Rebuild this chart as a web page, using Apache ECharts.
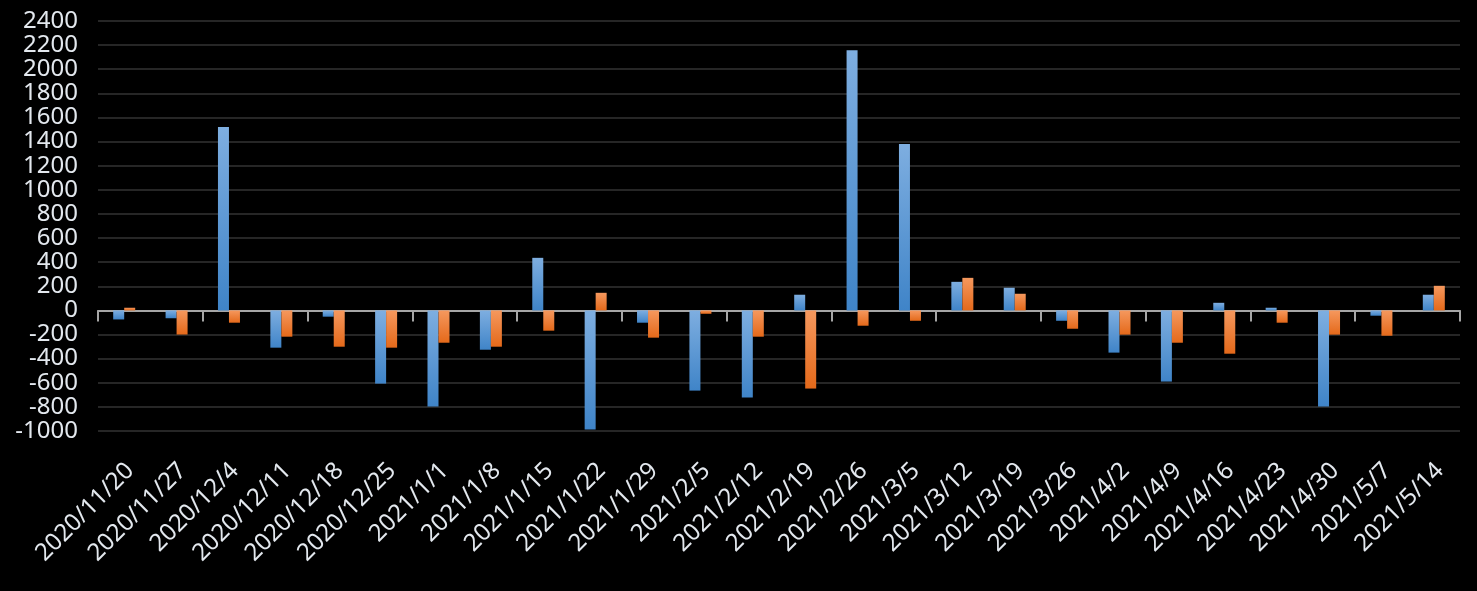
<!DOCTYPE html>
<html>
<head>
<meta charset="utf-8">
<script src="https://cdn.jsdelivr.net/npm/echarts@6/dist/echarts.min.js"></script>
<style>
html,body{margin:0;padding:0;background:#000;}
#c{width:1477px;height:591px;}
</style>
</head>
<body>
<div id="c"></div>
<script>
const categories = ['2020/11/20','2020/11/27','2020/12/4','2020/12/11','2020/12/18','2020/12/25','2021/1/1','2021/1/8','2021/1/15','2021/1/22','2021/1/29','2021/2/5','2021/2/12','2021/2/19','2021/2/26','2021/3/5','2021/3/12','2021/3/19','2021/3/26','2021/4/2','2021/4/9','2021/4/16','2021/4/23','2021/4/30','2021/5/7','2021/5/14'];
const blueValues = [-75,-65,1520,-309,-52,-607,-797,-326,436,-988,-102,-665,-723,130,2157,1379,237,188,-86,-350,-590,63,22,-797,-44,130];
const orangeValues = [22,-200,-102,-218,-301,-309,-268,-301,-168,146,-226,-28,-218,-648,-127,-86,270,138,-152,-201,-268,-359,-102,-201,-210,204];
const yTicks = {min:-1000, max:2400, interval:200};

const chart = echarts.init(document.getElementById('c'), null, {renderer:'canvas'});
const grad = (top, bottom) => new echarts.graphic.LinearGradient(0,0,0,1,[{offset:0,color:top},{offset:1,color:bottom}]);
const labelFont = {color:'#e3e8ee', fontSize:24, fontFamily:'Noto Sans'};
chart.setOption({
  backgroundColor:'#000',
  animation:false,
  grid:[
    {left:98, right:17, top:21, bottom:160},
    {left:104, right:11, top:21, bottom:160}
  ],
  xAxis:[
    {type:'category', gridIndex:0, data:categories, boundaryGap:true,
     axisLine:{onZero:true, lineStyle:{color:'#a6a6a6', width:2}},
     axisTick:{show:true, length:11, inside:false, lineStyle:{color:'#a6a6a6', width:2}},
     axisLabel:{show:false}, splitLine:{show:false}},
    {type:'category', gridIndex:1, data:categories, position:'bottom',
     axisLine:{show:false, onZero:false}, axisTick:{show:false},
     axisLabel:Object.assign({show:true, interval:0, rotate:45, margin:36}, labelFont)}
  ],
  yAxis:[
    {type:'value', gridIndex:0, min:yTicks.min, max:yTicks.max, interval:yTicks.interval,
     axisLine:{show:false}, axisTick:{show:false},
     axisLabel:Object.assign({margin:20, formatter:(v)=>String(v)}, labelFont),
     splitLine:{lineStyle:{color:'#262626', width:2}}},
    {type:'value', gridIndex:1, min:yTicks.min, max:yTicks.max, interval:yTicks.interval, show:false}
  ],
  series:[
    {type:'bar', name:'blue', xAxisIndex:0, yAxisIndex:0, data:blueValues, barWidth:11, barGap:'0%',
     itemStyle:{color:grad('#7eaee0','#3f84c8')}},
    {type:'bar', name:'orange', xAxisIndex:0, yAxisIndex:0, data:orangeValues, barWidth:11, barGap:'0%',
     itemStyle:{color:grad('#f5985e','#e4691a')}}
  ]
});
</script>
</body>
</html>
